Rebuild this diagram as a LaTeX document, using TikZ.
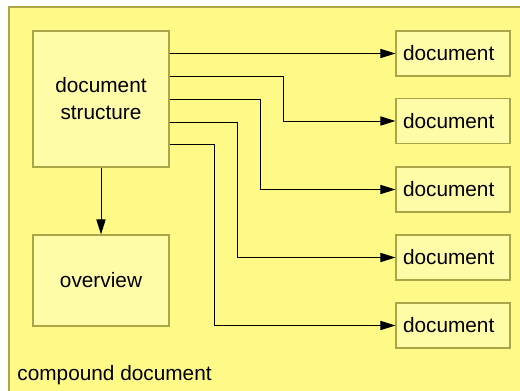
\documentclass[tikz,border=0pt]{standalone}
\usepackage{fontspec}
\setmainfont{Liberation Sans}
\usetikzlibrary{arrows.meta}
\definecolor{outerfill}{RGB}{255,250,135}
\definecolor{boxfill}{RGB}{255,252,168}
\definecolor{edge}{RGB}{170,165,70}
\tikzset{
  part/.style={draw=edge, fill=boxfill, line width=0.6pt, align=center,
    inner sep=0pt, font=\fontsize{10.4}{13.5}\selectfont},
  docbox/.style={part, minimum height=22.5pt, text width=50pt, align=left,
    inner xsep=3.5pt},
  link/.style={draw=black, line width=0.5pt,
    -{Triangle[length=7.5pt,width=4.6pt]}}
}
\begin{document}
\begin{tikzpicture}[x=0.5pt, y=-0.5pt]
  % 1. Frame of the picture
  \useasboundingbox (0,0) rectangle (520,391);
  \clip (0,0) rectangle (520,391);
  \draw[draw=edge, fill=outerfill, line width=0.6pt] (9,7) rectangle (540,410);
  \node[anchor=base west, inner sep=0pt, font=\fontsize{10.4}{13.5}\selectfont] (C) at (17,380) {compound document};

  % 2. Structure and overview
  \node[part, minimum width=68pt, minimum height=68pt] (S) at (101,99) {document\\structure};
  \node[part, minimum width=68pt, minimum height=45.5pt] (O) at (101,280.5) {overview};

  % 3. The documents
  \node[docbox] (D1) at (453,53.5) {document};
  \node[docbox] (D2) at (453,121) {document};
  \node[docbox] (D3) at (453,189.5) {document};
  \node[docbox] (D4) at (453,257.5) {document};
  \node[docbox] (D5) at (453,325.5) {document};

  % 4. Bends of the connectors
  \coordinate (k2) at (283,76);
  \coordinate (k3) at (260,99);
  \coordinate (k4) at (237,122);
  \coordinate (k5) at (214,144);

  % 5. Connectors
  \draw[link] (S) -- (O);
  \draw[link] (S.east |- D1.west) -- (D1.west);
  \draw[link] (S.east |- k2) -- (k2) |- (D2.west);
  \draw[link] (S.east |- k3) -- (k3) |- (D3.west);
  \draw[link] (S.east |- k4) -- (k4) |- (D4.west);
  \draw[link] (S.east |- k5) -- (k5) |- (D5.west);
\end{tikzpicture}
\end{document}
